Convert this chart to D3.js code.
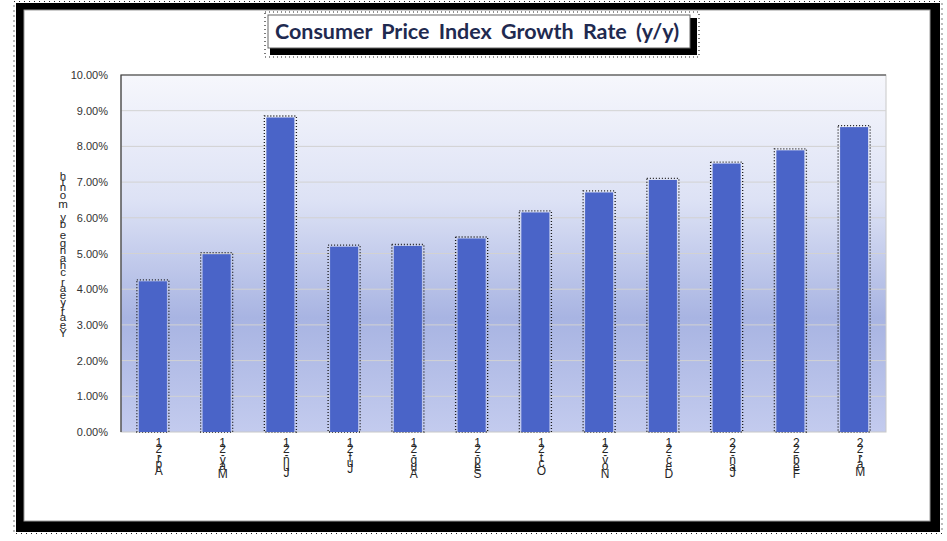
<!DOCTYPE html>
<html>
<head>
<meta charset="utf-8">
<script src="https://cdn.jsdelivr.net/npm/d3@7"></script>
<style>
  body { margin: 0; background: #fff; }
  svg { display: block; }
</style>
</head>
<body>
<svg width="947" height="541"></svg>
<script>
// data
const months = ["Apr-21", "May-21", "Jun-21", "Jul-21", "Aug-21", "Sep-21",
                "Oct-21", "Nov-21", "Dec-21", "Jan-22", "Feb-22", "Mar-22"];
const cpiGrowth = [4.22, 4.98, 8.81, 5.19, 5.21, 5.42, 6.15, 6.71, 7.06, 7.52, 7.89, 8.54];
const yTicks = [0, 1, 2, 3, 4, 5, 6, 7, 8, 9, 10];
const chartTitle = "Consumer Price Index Growth Rate (y/y)";
const yTitle = "Year/year change by month";

const svg = d3.select("svg");

// outer frame with black shadow and dotted fringe
svg.append("rect").attr("x", 14).attr("y", 1.5).attr("width", 928).attr("height", 532)
  .attr("fill", "none").attr("stroke", "#222").attr("stroke-width", 1.2)
  .attr("stroke-dasharray", "1 4");
svg.append("rect").attr("x", 16).attr("y", 3).attr("width", 924).attr("height", 529)
  .attr("fill", "#000");
svg.append("rect").attr("x", 24).attr("y", 10).attr("width", 906).attr("height", 511)
  .attr("fill", "#fff").attr("stroke", "#9a9a9a").attr("stroke-width", 1);

// plot area
const margin = { top: 75, left: 121, right: 886, bottom: 432 };

const x = d3.scaleBand()
  .domain(months)
  .range([margin.left, margin.right])
  .paddingInner(0.56)
  .paddingOuter(0.28);

const y = d3.scaleLinear()
  .domain([0, 10])
  .range([margin.bottom, margin.top]);

const defs = svg.append("defs");
const grad = defs.append("linearGradient").attr("id", "bg")
  .attr("x1", 0).attr("y1", 0).attr("x2", 0).attr("y2", 1);
grad.append("stop").attr("offset", "0%").attr("stop-color", "#f6f7fc");
grad.append("stop").attr("offset", "35%").attr("stop-color", "#dde2f5");
grad.append("stop").attr("offset", "68%").attr("stop-color", "#a8b4e2");
grad.append("stop").attr("offset", "100%").attr("stop-color", "#c3cbee");

svg.append("rect")
  .attr("x", margin.left).attr("y", margin.top)
  .attr("width", margin.right - margin.left)
  .attr("height", margin.bottom - margin.top)
  .attr("fill", "url(#bg)")
  .attr("stroke", "#c8c8c8");

// gridlines
svg.append("g")
  .selectAll("line")
  .data(yTicks.filter(d => d > 0))
  .enter().append("line")
  .attr("x1", margin.left).attr("x2", margin.right)
  .attr("y1", d => y(d)).attr("y2", d => y(d))
  .attr("stroke", "#d2d2d2").attr("stroke-width", 1);

// left & top edge of plot area
svg.append("path")
  .attr("d", `M${margin.left},${margin.bottom}V${margin.top}H${margin.right}`)
  .attr("fill", "none").attr("stroke", "#3a3a3a").attr("stroke-width", 1.2);

// y axis labels
const yAxis = svg.append("g")
  .attr("transform", `translate(${margin.left - 13},0)`)
  .call(d3.axisLeft(y).tickValues(yTicks).tickSize(0).tickFormat(d => d.toFixed(2) + "%"));
yAxis.select(".domain").remove();
yAxis.selectAll("text")
  .attr("font-family", "'Liberation Sans', Arial, sans-serif")
  .attr("font-size", 11)
  .attr("fill", "#333")
  .attr("x", 0);

// bars with dotted outline
const bars = svg.append("g");
bars.selectAll(".outline")
  .data(cpiGrowth)
  .enter().append("rect")
  .attr("class", "outline")
  .attr("x", (d, i) => x(months[i]) - 2)
  .attr("y", d => y(d) - 1.5)
  .attr("width", x.bandwidth() + 4)
  .attr("height", d => y(0) - y(d) + 1.5)
  .attr("fill", "none")
  .attr("stroke", "#1a1a1a")
  .attr("stroke-width", 1.3)
  .attr("stroke-dasharray", "1 2");

bars.selectAll(".bar")
  .data(cpiGrowth)
  .enter().append("rect")
  .attr("class", "bar")
  .attr("x", (d, i) => x(months[i]))
  .attr("y", d => y(d))
  .attr("width", x.bandwidth())
  .attr("height", d => y(0) - y(d))
  .attr("fill", "#4a64c8");

// stacked (upright) glyph text, read bottom to top
const measure = svg.append("text")
  .attr("font-family", "'Liberation Sans', Arial, sans-serif")
  .attr("font-size", 11)
  .attr("visibility", "hidden");
function charWidth(c, size) {
  measure.attr("font-size", size).text(c === " " ? "\u00a0" : c);
  return measure.node().getComputedTextLength();
}
function stacked(g, str, cx, top, size, spread) {
  const chars = str.split("");
  const widths = chars.map(c => charWidth(c, size) * spread);
  const total = d3.sum(widths);
  let acc = 0;
  chars.forEach((c, i) => {
    const center = acc + widths[i] / 2;
    acc += widths[i];
    g.append("text")
      .attr("x", cx)
      .attr("y", top + (total - center) + size * 0.36)
      .attr("text-anchor", "middle")
      .attr("font-family", "'Liberation Sans', Arial, sans-serif")
      .attr("font-size", size)
      .attr("fill", "#262626")
      .text(c);
  });
}

const xLabels = svg.append("g");
months.forEach(m => {
  stacked(xLabels, m, x(m) + x.bandwidth() / 2 + 6, 439, 12, 1.0);
});

const yLab = svg.append("g");
stacked(yLab, yTitle, 63, 172, 11.5, 1.17);
measure.remove();

// title box
const tb = { x: 268, y: 15, w: 422, h: 33 };
svg.append("rect").attr("x", tb.x - 3).attr("y", tb.y - 3).attr("width", tb.w + 12).attr("height", tb.h + 12)
  .attr("fill", "none").attr("stroke", "#222").attr("stroke-width", 1.2).attr("stroke-dasharray", "1 3");
svg.append("rect").attr("x", tb.x + 2).attr("y", tb.y + 3).attr("width", tb.w + 5).attr("height", tb.h + 4)
  .attr("fill", "#000");
svg.append("rect").attr("x", tb.x).attr("y", tb.y).attr("width", tb.w).attr("height", tb.h)
  .attr("fill", "#fff").attr("stroke", "#666").attr("stroke-width", 1);
svg.append("text")
  .attr("x", tb.x + tb.w / 2 - 2)
  .attr("y", tb.y + 24)
  .attr("text-anchor", "middle")
  .attr("font-family", "Lato, 'Open Sans', sans-serif")
  .attr("font-weight", "bold")
  .attr("font-size", 21.5)
  .attr("word-spacing", 4)
  .attr("fill", "#1f2a50")
  .text(chartTitle);
</script>
</body>
</html>
